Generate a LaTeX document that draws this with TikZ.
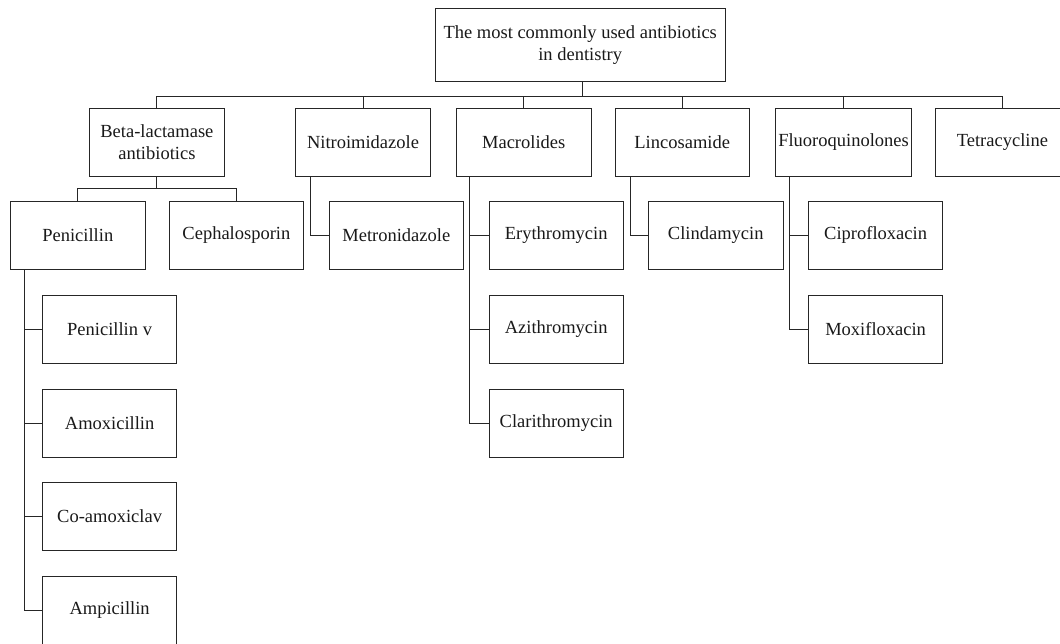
\documentclass[tikz,border=0pt]{standalone}
\usepackage{fontspec}
\setmainfont{Liberation Serif}
\usepackage{tikz}
\usetikzlibrary{positioning}

\tikzset{
  drugbox/.style={draw=black!85, line width=0.9pt, text=black!90, inner sep=0pt,
    minimum width=134.5pt, minimum height=68pt, anchor=north west, align=center,
    font=\fontsize{18.5}{22}\selectfont},
  link/.style={draw=black!85, line width=0.9pt}
}

\begin{document}
\begin{tikzpicture}[x=1pt, y=-1pt]
\useasboundingbox (0,0) rectangle (1060,643);

% First, define nodes
\node[drugbox, minimum width=290.5pt, minimum height=73pt] (root) at (434.5,8) {The most commonly used antibiotics\\in dentistry};

% the drug classes
\node[drugbox] (beta)   at (89.2,108)  {Beta-lactamase\\antibiotics};
\node[drugbox] (nitro)  at (295.3,108) {Nitroimidazole};
\node[drugbox] (macro)  at (456,108)   {Macrolides};
\node[drugbox] (linco)  at (614.5,108) {Lincosamide};
\node[drugbox, minimum width=136pt] (fluoro) at (775.1,108) {Fluoroquinolones};
\node[drugbox] (tetra)  at (934.7,108) {Tetracycline};

% the drugs, second row
\node[drugbox] (penicillin) at (10.1,201)  {Penicillin};
\node[drugbox] (ceph)       at (168.7,201) {Cephalosporin};
\node[drugbox] (metro)      at (328.6,201) {Metronidazole};
\node[drugbox] (ery)        at (488.5,201) {Erythromycin};
\node[drugbox] (clinda)     at (648,201)   {Clindamycin};
\node[drugbox] (cipro)      at (807.9,201) {Ciprofloxacin};

% the drugs hanging below
\node[drugbox] (penv)   at (41.9,295) {Penicillin v};
\node[drugbox] (amox)   at (41.9,389) {Amoxicillin};
\node[drugbox] (coamox) at (41.9,482) {Co-amoxiclav};
\node[drugbox] (ampi)   at (41.9,576) {Ampicillin};
\node[drugbox] (azi)    at (488.5,295) {Azithromycin};
\node[drugbox] (clari)  at (488.5,389) {Clarithromycin};
\node[drugbox] (moxi)   at (807.9,295) {Moxifloxacin};

% Now the bus under the root
\coordinate (bus) at (0,96);
\draw[link] ([xshift=2pt]root.south) -- ([xshift=2pt]root.south |- bus);
\draw[link] (beta.north) -- (beta.north |- bus) -- (tetra.north |- bus) -- (tetra.north);
\foreach \c in {nitro,macro,linco,fluoro} {\draw[link] (\c.north) -- (\c.north |- bus);}

% split under the beta-lactamase box
\draw[link] (beta.south) -- ++(0,12) coordinate (bsplit);
\draw[link] (penicillin.north) |- (bsplit) -| (ceph.north);

% Finally the elbows down the left sides
\foreach \d in {penv,amox,coamox,ampi} {\draw[link] ([xshift=14.2pt]penicillin.south west) |- (\d.west);}
\draw[link] ([xshift=15pt]nitro.south west) |- (metro.west);
\foreach \d in {ery,azi,clari} {\draw[link] ([xshift=13pt]macro.south west) |- (\d.west);}
\draw[link] ([xshift=16.2pt]linco.south west) |- (clinda.west);
\foreach \d in {cipro,moxi} {\draw[link] ([xshift=14.2pt]fluoro.south west) |- (\d.west);}
\end{tikzpicture}
\end{document}
